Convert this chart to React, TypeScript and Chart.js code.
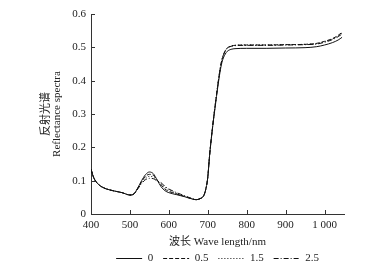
import React, { useEffect, useRef } from "react";
import { Chart, registerables } from "chart.js";

Chart.register(...registerables);

const wavelengths = [400,405,410,420,430,440,460,480,500,510,520,530,540,550,560,570,580,590,600,620,640,660,670,680,690,696,700,705,710,715,720,725,730,735,740,745,750,760,770,800,850,900,950,980,1000,1020,1035,1045];

const s0 = [0.135,0.115,0.102,0.088,0.080,0.075,0.069,0.064,0.057,0.060,0.078,0.100,0.118,0.126,0.121,0.102,0.082,0.070,0.064,0.058,0.052,0.045,0.043,0.046,0.056,0.080,0.110,0.180,0.235,0.285,0.330,0.375,0.415,0.448,0.468,0.480,0.488,0.494,0.496,0.497,0.497,0.498,0.499,0.502,0.507,0.514,0.522,0.530];
const s05 = [0.135,0.115,0.102,0.088,0.080,0.075,0.069,0.064,0.057,0.060,0.077,0.097,0.113,0.119,0.116,0.102,0.088,0.075,0.068,0.060,0.053,0.045,0.043,0.046,0.056,0.080,0.110,0.180,0.237,0.288,0.335,0.380,0.422,0.456,0.477,0.490,0.498,0.504,0.506,0.507,0.507,0.508,0.509,0.512,0.518,0.526,0.536,0.545];
const s15 = [0.135,0.115,0.102,0.088,0.080,0.075,0.069,0.064,0.057,0.060,0.076,0.094,0.108,0.113,0.111,0.100,0.091,0.080,0.072,0.062,0.054,0.046,0.043,0.046,0.056,0.080,0.110,0.180,0.237,0.288,0.335,0.380,0.422,0.456,0.477,0.490,0.498,0.504,0.506,0.507,0.507,0.508,0.509,0.511,0.517,0.525,0.534,0.542];
const s25 = [0.135,0.115,0.102,0.088,0.080,0.075,0.069,0.064,0.057,0.060,0.075,0.091,0.103,0.107,0.106,0.099,0.094,0.083,0.075,0.064,0.055,0.046,0.043,0.046,0.056,0.080,0.110,0.180,0.237,0.288,0.335,0.380,0.422,0.455,0.476,0.489,0.497,0.503,0.505,0.506,0.506,0.507,0.508,0.510,0.515,0.523,0.532,0.540];

const seriesLabels = ["0", "0.5", "1.5", "2.5"];
const xTicks = [400, 500, 600, 700, 800, 900, 1000];
const yTicks = [0, 0.1, 0.2, 0.3, 0.4, 0.5, 0.6];

const SERIF = "'Liberation Serif', 'Noto Sans CJK SC', serif";

const innerTicks = {
  id: "innerTicks",
  afterDraw(chart: any) {
    const { ctx, chartArea, scales } = chart;
    const x = scales.x;
    const y = scales.y;
    ctx.save();
    ctx.strokeStyle = "#333";
    ctx.lineWidth = 1;
    xTicks.forEach((v) => {
      const px = Math.round(x.getPixelForValue(v)) + 0.5;
      ctx.beginPath();
      ctx.moveTo(px, chartArea.bottom);
      ctx.lineTo(px, chartArea.bottom - 4);
      ctx.stroke();
    });
    yTicks.forEach((v) => {
      const py = Math.round(y.getPixelForValue(v)) + 0.5;
      ctx.beginPath();
      ctx.moveTo(chartArea.left, py);
      ctx.lineTo(chartArea.left + 4, py);
      ctx.stroke();
    });
    ctx.restore();
  },
};

export default function App() {
  const ref = useRef<HTMLCanvasElement | null>(null);
  useEffect(() => {
    if (!ref.current) return;
    const all = [s0, s05, s15, s25];
    const dashes = [[], [4, 2], [1, 2], [5, 2, 1, 2]];
    const chart = new Chart(ref.current, {
      type: "line",
      data: {
        datasets: all.map((s, i) => ({
          label: seriesLabels[i],
          data: wavelengths.map((w, j) => ({ x: w, y: s[j] })),
          borderColor: "#111",
          backgroundColor: "#111",
          borderWidth: 1,
          borderDash: dashes[i],
          pointRadius: 0,
          cubicInterpolationMode: "monotone" as const,
          fill: false,
        })),
      },
      options: {
        animation: false,
        responsive: false,
        maintainAspectRatio: false,
        layout: { padding: { top: 14, right: 29, left: 0, bottom: -1 } },
        plugins: {
          tooltip: { enabled: false },
          legend: {
            position: "bottom",
            fullSize: false,
            labels: {
              usePointStyle: true,
              pointStyle: "line",
              pointStyleWidth: 26,
              boxHeight: 1,
              padding: 10,
              color: "#222",
              font: { family: SERIF, size: 11 },
              generateLabels: (ch: any) => {
                const items = Chart.defaults.plugins.legend.labels.generateLabels(ch);
                return items.map((it: any, i: number) => ({
                  ...it,
                  lineDash: (ch.data.datasets[i] as any).borderDash || [],
                  lineWidth: 1,
                  strokeStyle: "#111",
                  pointStyle: "line",
                }));
              },
            },
          },
        },
        scales: {
          x: {
            type: "linear",
            min: 400,
            max: 1050,
            afterBuildTicks: (scale: any) => {
              scale.ticks = xTicks.map((v) => ({ value: v }));
            },
            afterFit: (scale: any) => {
              scale.height = 29;
            },
            grid: { display: false, drawTicks: false },
            border: { display: true, color: "#333", width: 1 },
            ticks: {
              padding: 5,
              color: "#222",
              maxRotation: 0,
              font: { family: SERIF, size: 11 },
              callback: (v: any) => (v === 1000 ? "1 000" : String(v)),
            },
            title: {
              display: true,
              text: "波长 Wave length/nm",
              color: "#222",
              padding: { top: 0, bottom: -5 },
              font: { family: SERIF, size: 11, lineHeight: 1.1 },
            },
          },
          y: {
            type: "linear",
            min: 0,
            max: 0.6,
            afterBuildTicks: (scale: any) => {
              scale.ticks = yTicks.map((v) => ({ value: v }));
            },
            afterFit: (scale: any) => {
              scale.width = 91;
            },
            grid: { display: false, drawTicks: false },
            border: { display: true, color: "#333", width: 1 },
            ticks: {
              padding: 5,
              color: "#222",
              font: { family: SERIF, size: 11 },
              callback: (v: any) => String(Math.round(v * 10) / 10),
            },
            title: {
              display: true,
              text: ["反射光谱", "Reflectance spectra"],
              color: "#222",
              padding: { top: 40, bottom: 0 },
              font: { family: SERIF, size: 11, lineHeight: 1.05 },
            },
          },
        },
      },
      plugins: [innerTicks],
    });
    return () => chart.destroy();
  }, []);
  return (
    <div style={{ position: "fixed", left: 0, top: 0, width: 373, height: 273, background: "#fff" }}>
      <canvas ref={ref} width={373} height={273} style={{ width: 373, height: 273 }} />
    </div>
  );
}
